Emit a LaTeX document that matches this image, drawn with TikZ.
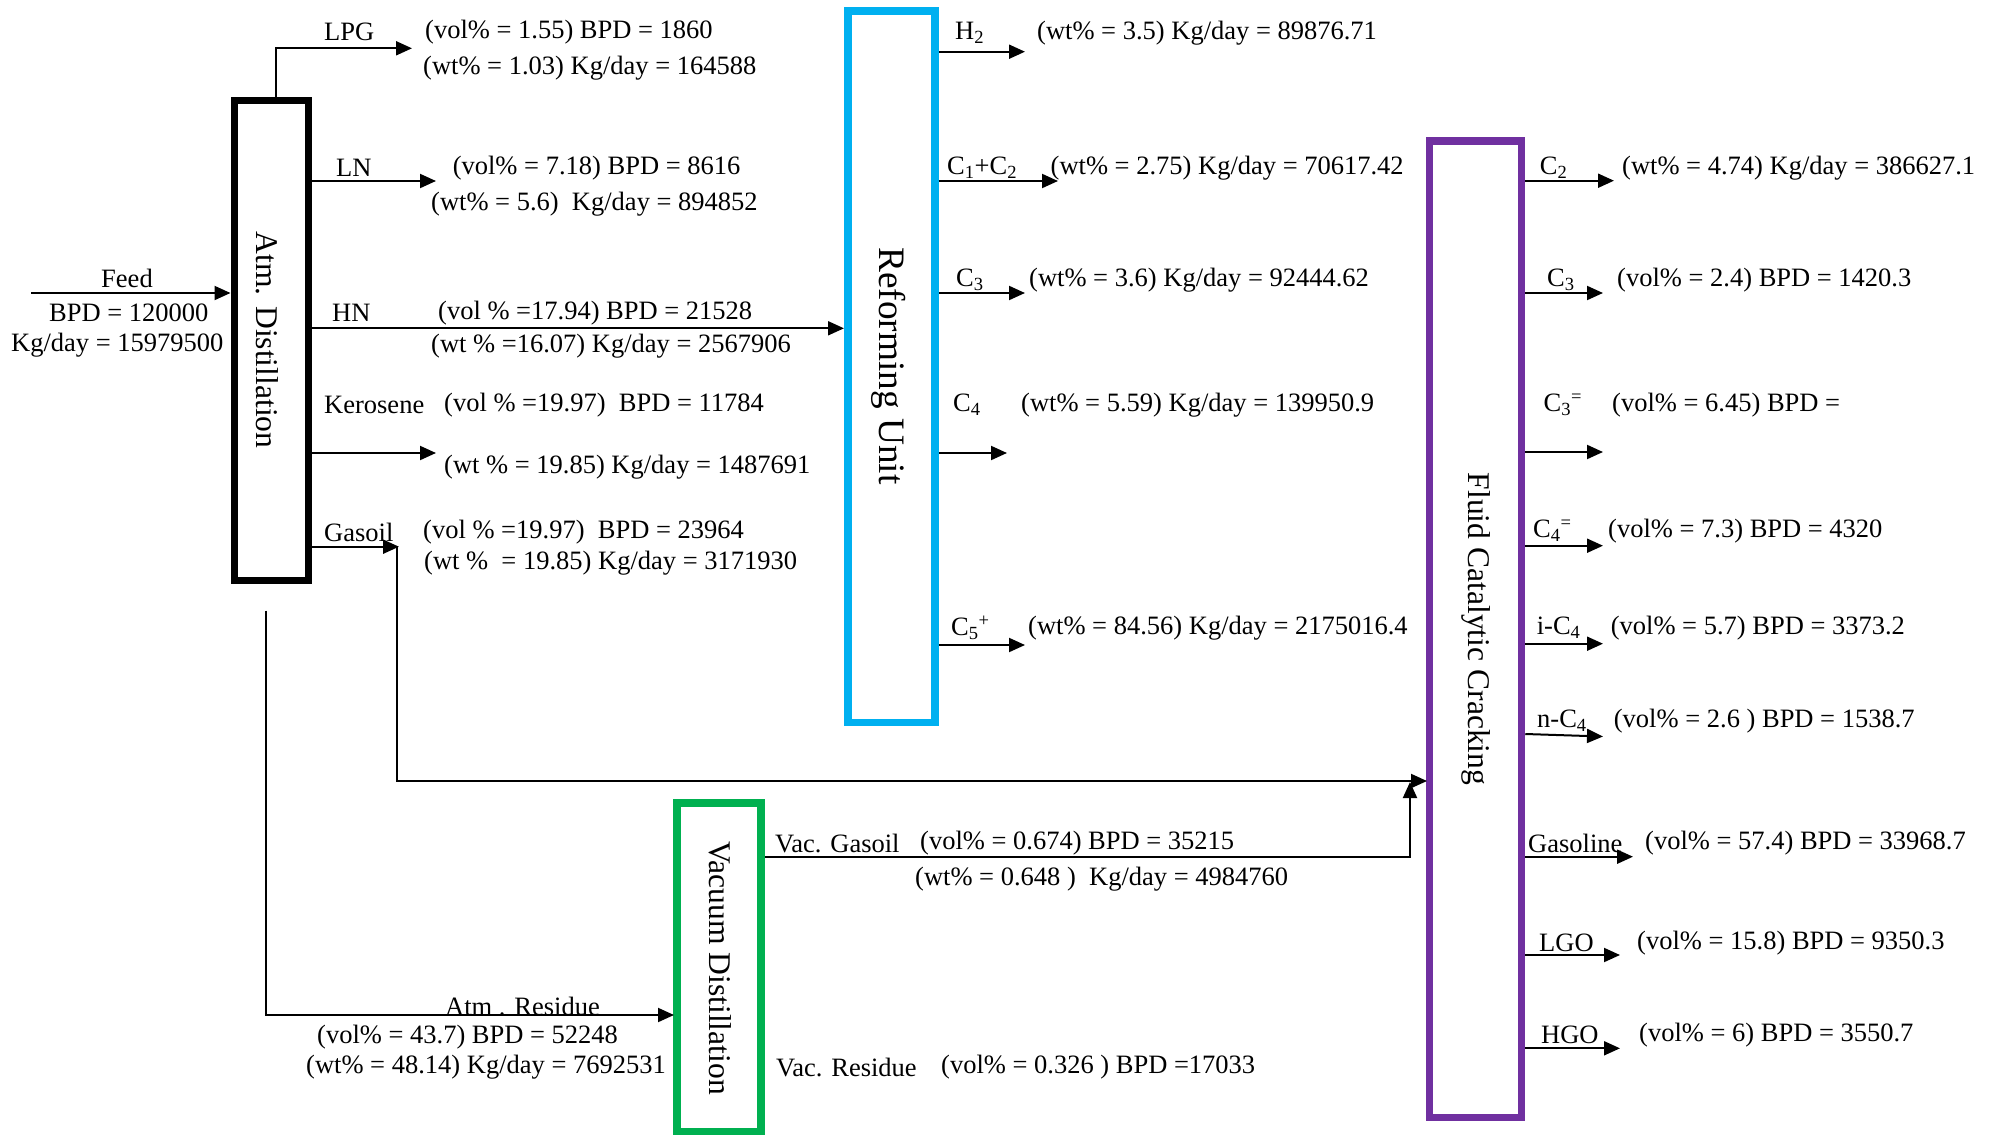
\documentclass[tikz,border=0pt]{standalone}
\usepackage{fontspec}
\setmainfont{Liberation Serif}
\usetikzlibrary{arrows.meta}
\definecolor{refblue}{HTML}{00B0F0}
\definecolor{fccpurple}{HTML}{7030A0}
\definecolor{vacgreen}{HTML}{00B050}
\tikzset{
  unitbox/.style={draw, line width=7.5pt, inner sep=0pt},
  arr/.style={line width=2pt, -{Triangle[length=16pt,width=14pt]}},
  lbl/.style={anchor=west, inner sep=0pt, font=\fontsize{26.5}{30}\selectfont},
  unitlbl/.style={rotate=-90, inner sep=0pt, font=\fontsize{31.6}{36}\selectfont},
}
\begin{document}
\begin{tikzpicture}[x=1pt,y=-1pt]
\useasboundingbox (0,0) rectangle (1995,1135);

% ---- unit boxes
\node[unitbox, draw=black, line width=7pt, minimum width=74pt, minimum height=479.5pt] (atm) at (271,340.25) {};
\node[unitbox, draw=refblue, minimum width=87pt, minimum height=711.5pt] (ref) at (891.5,366.75) {};
\node[unitbox, draw=fccpurple, minimum width=92pt, minimum height=976.5pt] (fcc) at (1475.5,629.25) {};
\node[unitbox, draw=vacgreen, minimum width=84pt, minimum height=328.5pt] (vac) at (719,967.25) {};

\node[unitlbl] (atmlbl) at (267,340) {Atm. Distillation};
\node[unitlbl, font=\fontsize{37.3}{42}\selectfont] (reflbl) at (889,366) {Reforming Unit};
\node[unitlbl] (fcclbl) at (1476,629) {Fluid Catalytic Cracking};
\node[unitlbl] (vaclbl) at (720,968) {Vacuum Distillation};

% ---- free ends of connectors
\coordinate (feedStart) at (31,293);
\coordinate (tLPG) at (412,48.3);
\coordinate (tLN) at (436,181);
\coordinate (yHN) at (0,328.3);
\coordinate (tHN) at (844,328.3);
\coordinate (tKer) at (436,453);
\coordinate (tGas) at (399,546.7);
\coordinate (gasTurn) at (397.3,546.7);
\coordinate (tGasF) at (1427,781);
\coordinate (vgCorner) at (1410,857);
\coordinate (tVG) at (1410,782);
\coordinate (arStart) at (266,610.7);
\coordinate (tAR) at (674,1015);

\coordinate (tH2) at (1025,51.7);
\coordinate (tC12) at (1058,181);
\coordinate (tRC3) at (1025,293);
\coordinate (tRC4) at (1007,453);
\coordinate (tRC5) at (1025,645);

\coordinate (tFC2) at (1614,180.7);
\coordinate (tFC3) at (1603,293);
\coordinate (tFC3e) at (1603,452);
\coordinate (tFC4e) at (1603,545.7);
\coordinate (tFiC4) at (1603,643.7);
\coordinate (sFnC4) at (1521,734);
\coordinate (tFnC4) at (1603,736.5);
\coordinate (tFgas) at (1633,856.7);
\coordinate (tFLGO) at (1620,955);
\coordinate (tFHGO) at (1620,1048.3);

% ---- connectors
\draw[arr] (feedStart) -- (atm.west |- feedStart);
\draw[arr] ([xshift=5.4pt]atm.north) |- (tLPG);
\draw[arr] (atm.east |- tLN) -- (tLN);
\draw[arr] (atm.east |- yHN) -- (tHN);
\draw[arr] (atm.east |- tKer) -- (tKer);
\draw[arr] (atm.east |- tGas) -- (tGas);
\draw[arr] (gasTurn) |- (tGasF);
\draw[arr] (vac.east |- vgCorner) -- (vgCorner) -- (tVG);
\draw[arr] (arStart) |- (tAR);

\draw[arr] (ref.east |- tH2) -- (tH2);
\draw[arr] (ref.east |- tC12) -- (tC12);
\draw[arr] (ref.east |- tRC3) -- (tRC3);
\draw[arr] (ref.east |- tRC4) -- (tRC4);
\draw[arr] (ref.east |- tRC5) -- (tRC5);

\draw[arr] (fcc.east |- tFC2) -- (tFC2);
\draw[arr] (fcc.east |- tFC3) -- (tFC3);
\draw[arr] (fcc.east |- tFC3e) -- (tFC3e);
\draw[arr] (fcc.east |- tFC4e) -- (tFC4e);
\draw[arr] (fcc.east |- tFiC4) -- (tFiC4);
\draw[arr] (fcc.east |- sFnC4) -- (tFnC4);
\draw[arr] (fcc.east |- tFgas) -- (tFgas);
\draw[arr] (fcc.east |- tFLGO) -- (tFLGO);
\draw[arr] (fcc.east |- tFHGO) -- (tFHGO);

% ---- feed labels
\node[lbl, anchor=center] (feedl) at (127,278) {Feed};
\node[lbl] (feedb) at (49,313) {BPD = 120000};
\node[lbl] (feedk) at (11,345) {Kg/day = 15979500};

% ---- atmospheric distillation products
\node[lbl] (lpgl) at (324,32) {LPG};
\node[lbl] (lpgv) at (425,32) {(vol\% = 1.55) BPD = 1860};
\node[lbl] (lpgw) at (423,68) {(wt\% = 1.03) Kg/day = 164588};
\node[lbl] (lnl) at (336,168) {LN};
\node[lbl] (lnv) at (452.6,168) {(vol\% = 7.18) BPD = 8616};
\node[lbl] (lnw) at (431,204) {(wt\% = 5.6)\ \ Kg/day = 894852};
\node[lbl] (hnl) at (332,313) {HN};
\node[lbl] (hnv) at (438,313) {(vol \% =17.94) BPD = 21528};
\node[lbl] (hnw) at (431,346) {(wt \% =16.07) Kg/day = 2567906};
\node[lbl] (kerl) at (324,405) {Kerosene};
\node[lbl] (kerv) at (444,405) {(vol \% =19.97)\ \ BPD = 11784};
\node[lbl] (kerw) at (444,467) {(wt \% = 19.85) Kg/day = 1487691};
\node[lbl] (gasl) at (324,532) {Gasoil};
\node[lbl] (gasv) at (423,532) {(vol \% =19.97)\ \ BPD = 23964};
\node[lbl] (gasw) at (424,563) {(wt \%\ \ = 19.85) Kg/day = 3171930};
\node[lbl] (arl) at (445,1006) {Atm . Residue};
\node[lbl] (arv) at (317,1037) {(vol\% = 43.7) BPD = 52248};
\node[lbl] (arw) at (306,1067) {(wt\% = 48.14) Kg/day = 7692531};

% ---- vacuum distillation products
\node[lbl] (vgl) at (775,843) {Vac. Gasoil};
\node[lbl] (vgv) at (920,843) {(vol\% = 0.674) BPD = 35215};
\node[lbl] (vgw) at (915,879) {(wt\% = 0.648 )\ \ Kg/day = 4984760};
\node[lbl] (vrl) at (776,1067) {Vac. Residue};
\node[lbl] (vrv) at (941,1067) {(vol\% = 0.326 ) BPD =17033};

% ---- reforming products
\node[lbl] (h2l) at (955,33) {H\textsubscript{2}};
\node[lbl] (h2w) at (1037,33) {(wt\% = 3.5) Kg/day = 89876.71};
\node[lbl] (c12l) at (947,168) {C\textsubscript{1}+C\textsubscript{2}};
\node[lbl] (c12w) at (1050.5,168) {(wt\% = 2.75) Kg/day = 70617.42};
\node[lbl] (rc3l) at (956,280) {C\textsubscript{3}};
\node[lbl] (rc3w) at (1029,280) {(wt\% = 3.6) Kg/day = 92444.62};
\node[lbl] (rc4l) at (953,405) {C\textsubscript{4}};
\node[lbl] (rc4w) at (1021,405) {(wt\% = 5.59) Kg/day = 139950.9};
\node[lbl] (rc5l) at (951,628) {C\textsubscript{5}\textsuperscript{+}};
\node[lbl] (rc5w) at (1028,628) {(wt\% = 84.56) Kg/day = 2175016.4};

% ---- FCC products
\node[lbl] (fc2l) at (1539.7,168) {C\textsubscript{2}};
\node[lbl] (fc2w) at (1622,168) {(wt\% = 4.74) Kg/day = 386627.1};
\node[lbl] (fc3l) at (1547,280) {C\textsubscript{3}};
\node[lbl] (fc3v) at (1617,280) {(vol\% = 2.4) BPD = 1420.3};
\node[lbl] (fc3el) at (1543.5,405) {C\textsubscript{3}\textsuperscript{=}};
\node[lbl] (fc3ev) at (1612,405) {(vol\% = 6.45) BPD =};
\node[lbl] (fc4el) at (1533,531) {C\textsubscript{4}\textsuperscript{=}};
\node[lbl] (fc4ev) at (1608,531) {(vol\% = 7.3) BPD = 4320};
\node[lbl] (fic4l) at (1536.6,628) {i-C\textsubscript{4}};
\node[lbl] (fic4v) at (1610.6,628) {(vol\% = 5.7) BPD = 3373.2};
\node[lbl] (fnc4l) at (1537,721) {n-C\textsubscript{4}};
\node[lbl] (fnc4v) at (1613.7,721) {(vol\% = 2.6 ) BPD = 1538.7};
\node[lbl] (fgasl) at (1528,843) {Gasoline};
\node[lbl] (fgasv) at (1645,843) {(vol\% = 57.4) BPD = 33968.7};
\node[lbl] (flgol) at (1539,943) {LGO};
\node[lbl] (flgov) at (1637,943) {(vol\% = 15.8) BPD = 9350.3};
\node[lbl] (fhgol) at (1541,1035) {HGO};
\node[lbl] (fhgov) at (1639,1035) {(vol\% = 6) BPD = 3550.7};
\end{tikzpicture}
\end{document}
